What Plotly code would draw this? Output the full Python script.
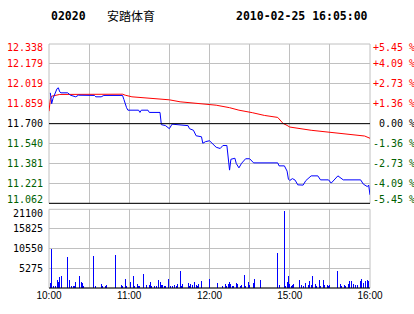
import plotly.graph_objects as go

# ---------------- data ----------------
code = "02020"
name = "安踏体育"
stamp = "2010-02-25 16:05:00"
prev_close = 11.700

price_times = ["10:01", "10:02", "10:03", "10:04", "10:06", "10:07", "10:08", "10:09", "10:14", "10:16",
               "10:19", "10:20", "10:22", "10:34", "10:35", "10:39", "10:41", "10:55", "10:56", "10:57",
               "10:58", "10:59", "11:07", "11:08", "11:09", "11:14", "11:15", "11:23", "11:24", "11:27",
               "11:30", "11:32", "11:43", "11:44", "11:45", "11:48", "11:50", "11:54", "11:55", "11:57",
               "12:00", "12:05", "12:08", "12:10", "12:13", "12:14", "12:15", "12:16", "12:18", "12:19",
               "12:20", "12:22", "12:24", "12:27", "12:30", "14:33", "14:51", "14:52", "14:56", "14:58",
               "14:59", "15:00", "15:02", "15:04", "15:06", "15:10", "15:12", "15:16", "15:21", "15:23",
               "15:29", "15:31", "15:36", "15:40", "15:53", "15:55", "15:58", "15:59", "16:00"]
price_values = [11.947, 11.860, 11.902, 11.928, 11.980, 11.987, 11.955, 11.947, 11.947, 11.928,
                11.915, 11.915, 11.928, 11.926, 11.915, 11.915, 11.926, 11.926, 11.894, 11.854,
                11.828, 11.808, 11.808, 11.790, 11.808, 11.808, 11.790, 11.790, 11.692, 11.685,
                11.660, 11.696, 11.690, 11.684, 11.660, 11.647, 11.603, 11.595, 11.543, 11.556,
                11.563, 11.511, 11.501, 11.525, 11.525, 11.429, 11.328, 11.415, 11.419, 11.423,
                11.381, 11.346, 11.383, 11.419, 11.419, 11.386, 11.386, 11.362, 11.362, 11.320,
                11.256, 11.245, 11.260, 11.248, 11.210, 11.208, 11.244, 11.282, 11.282, 11.250,
                11.250, 11.224, 11.282, 11.250, 11.250, 11.216, 11.196, 11.208, 11.130]

avg_times = ["10:00", "10:01", "10:02", "10:05", "10:08", "10:55", "10:57", "11:02", "11:10", "11:22",
             "11:30", "11:38", "11:47", "11:55", "12:01", "12:05", "12:15", "12:22", "14:32", "14:41",
             "14:51", "14:55", "14:58", "15:00", "15:16", "15:28", "15:43", "15:56", "16:00"]
avg_values = [11.800, 11.894, 11.920, 11.930, 11.934, 11.936, 11.928, 11.915, 11.907, 11.899,
              11.891, 11.875, 11.867, 11.860, 11.852, 11.848, 11.828, 11.808, 11.788, 11.766,
              11.750, 11.702, 11.686, 11.673, 11.647, 11.633, 11.615, 11.601, 11.583]

vol_times = ["10:01", "10:02", "10:03", "10:05", "10:06", "10:07", "10:08", "10:09", "10:14", "10:15",
             "10:17", "10:18", "10:19", "10:20", "10:23", "10:24", "10:25", "10:26", "10:33", "10:35",
             "10:39", "10:40", "10:42", "10:43", "10:50", "10:54", "10:55", "10:57", "10:58", "11:01",
             "11:03", "11:04", "11:06", "11:07", "11:08", "11:11", "11:13", "11:15", "11:16", "11:17",
             "11:19", "11:20", "11:22", "11:23", "11:24", "11:25", "11:26", "11:27", "11:29", "11:31",
             "11:32", "11:34", "11:35", "11:36", "11:38", "11:39", "11:40", "11:44", "11:45", "11:46",
             "11:47", "11:49", "11:50", "11:51", "11:52", "11:54", "12:00", "12:06", "12:10", "12:12",
             "12:13", "12:14", "12:15", "12:16", "12:17", "12:18", "12:20", "12:21", "12:23", "12:24",
             "12:26", "12:27", "12:29", "12:30", "14:33", "14:34", "14:38", "14:51", "14:52", "14:56",
             "14:57", "14:58", "14:59", "15:00", "15:01", "15:02", "15:03", "15:07", "15:09", "15:10",
             "15:12", "15:14", "15:15", "15:16", "15:17", "15:19", "15:20", "15:22", "15:23", "15:25",
             "15:26", "15:28", "15:29", "15:30", "15:36", "15:38", "15:39", "15:41", "15:42", "15:44",
             "15:45", "15:46", "15:48", "15:49", "15:51", "15:53", "15:54", "15:55", "15:57", "15:58",
             "15:59", "16:00"]
vol_values = [1250, 10400, 530, 530, 2140, 1500, 2850, 3200, 8280, 2140,
              530, 530, 530, 1500, 3200, 1500, 1250, 530, 8540, 530,
              1070, 530, 530, 800, 8800, 800, 530, 2400, 530, 1500,
              3200, 530, 1070, 530, 530, 3740, 800, 800, 1500, 530,
              530, 530, 2140, 1500, 800, 800, 530, 530, 2400, 530,
              530, 800, 530, 1070, 4540, 530, 1070, 1250, 530, 1070,
              800, 1500, 800, 530, 1070, 1870, 2400, 1340, 620, 1070,
              620, 1070, 1690, 1070, 620, 620, 1340, 1070, 620, 890,
              3560, 620, 1690, 890, 1340, 2400, 2230, 9520, 890, 20650,
              620, 1510, 3290, 1160, 620, 890, 1160, 2050, 890, 620,
              1340, 890, 1780, 890, 3110, 1160, 620, 2050, 620, 2050,
              890, 890, 620, 890, 4630, 1160, 620, 890, 620, 1160,
              1780, 1780, 1160, 890, 890, 1780, 2490, 1340, 1780, 2230,
              1780, 1160]

price_ticks = [11.062, 11.221, 11.381, 11.540, 11.700, 11.859, 12.019, 12.179, 12.338]
pct_tick_labels = ["-5.45 %", "-4.09 %", "-2.73 %", "-1.36 %", " 0.00 %", "+1.36 %", "+2.73 %", "+4.09 %", "+5.45 %"]
vol_ticks = [0, 5275, 10550, 15825, 21100]
time_tick_labels = ["10:00", "", "11:00", "", "12:00", "", "15:00", "", "16:00"]
time_tick_clock = ["10:00", "10:30", "11:00", "11:30", "12:00", "14:30", "15:00", "15:30", "16:00"]


# ---------------- helpers ----------------
def session_minute(s):
    h, m = map(int, s.split(":"))
    t = h * 60 + m
    if t <= 12 * 60 + 30:
        return t - 600
    return t - (14 * 60 + 30) + 150


RED = "#FF0000"
GREEN = "#006000"
BLUE = "#0000FF"
GRID = "#C0C0C0"


def col_for(v):
    if abs(v - prev_close) < 1e-9:
        return "#000000"
    return RED if v > prev_close else GREEN


px = [session_minute(t) for t in price_times]
ax = [session_minute(t) for t in avg_times]
vx = [session_minute(t) for t in vol_times]
tx = [session_minute(t) for t in time_tick_clock]

fig = go.Figure()
fig.add_trace(go.Scatter(x=ax, y=avg_values, mode="lines", line=dict(color=RED, width=1),
                         xaxis="x", yaxis="y", hoverinfo="skip", showlegend=False))
fig.add_trace(go.Scatter(x=px, y=price_values, mode="lines", line=dict(color=BLUE, width=1),
                         xaxis="x", yaxis="y", hoverinfo="skip", showlegend=False))
fig.add_trace(go.Bar(x=vx, y=vol_values, width=0.75, marker=dict(color=BLUE, line=dict(width=0)),
                     xaxis="x2", yaxis="y2", hoverinfo="skip", showlegend=False))

mono = dict(family="DejaVu Sans Mono", size=10, color="#000000")
y_price_dom = [0.347, 1.0]
y_vol_dom = [0.0, 0.3225]

fig.update_layout(
    width=414, height=314,
    margin=dict(l=49, r=44, t=44, b=26, autoexpand=False),
    paper_bgcolor="white", plot_bgcolor="white",
    bargap=0,
    xaxis=dict(domain=[0, 1], anchor="y", range=[0, 240], tickvals=tx, showticklabels=False,
               showgrid=True, gridcolor=GRID, gridwidth=1, zeroline=False, ticks="", automargin=False),
    xaxis2=dict(domain=[0, 1], anchor="y2", range=[0, 240], tickvals=tx, ticktext=time_tick_labels,
                showgrid=True, gridcolor=GRID, gridwidth=1, zeroline=False, ticks="", automargin=False,
                tickfont=dict(family="Liberation Sans", size=10, color="#000000")),
    yaxis=dict(domain=y_price_dom, anchor="x", range=[price_ticks[0], price_ticks[-1]],
               tickvals=price_ticks, showticklabels=False, showgrid=True, gridcolor=GRID,
               zeroline=False, ticks="", automargin=False),
    yaxis2=dict(domain=y_vol_dom, anchor="x2", range=[0, vol_ticks[-1]], tickvals=vol_ticks,
                showticklabels=False, showgrid=True, gridcolor=GRID, zeroline=False, ticks="",
                automargin=False),
)

shapes = []
for dom in (y_price_dom, y_vol_dom):
    shapes.append(dict(type="rect", xref="paper", yref="paper", x0=0, x1=1, y0=dom[0], y1=dom[1],
                       line=dict(color=GRID, width=1), fillcolor="rgba(0,0,0,0)", layer="below"))
shapes.append(dict(type="line", xref="paper", yref="y", x0=0, x1=1, y0=prev_close, y1=prev_close,
                   line=dict(color="#000000", width=1)))
shapes.append(dict(type="line", xref="paper", yref="paper", x0=0, x1=1, y0=y_price_dom[0], y1=y_price_dom[0],
                   line=dict(color="#000000", width=1)))
shapes.append(dict(type="line", xref="paper", yref="paper", x0=0, x1=1, y0=0, y1=0,
                   line=dict(color="#000000", width=1)))
fig.update_layout(shapes=shapes)

# y tick labels as annotations (extreme labels kept inside the panel)
n = len(price_ticks)
for i, v in enumerate(price_ticks):
    shift = 4 if i == 0 else (-3 if i == n - 1 else 0)
    c = col_for(v)
    fig.add_annotation(text="%.3f" % v, xref="paper", yref="y", x=0, y=v, xanchor="right", yanchor="middle",
                       xshift=-4, yshift=shift, showarrow=False, font=dict(mono, color=c))
    fig.add_annotation(text=pct_tick_labels[i], xref="paper", yref="y", x=1, y=v, xanchor="left",
                       yanchor="middle", xshift=1, yshift=shift, showarrow=False, font=dict(mono, color=c))
for i, v in enumerate(vol_ticks):
    if v == 0:
        continue
    shift = -4 if i == len(vol_ticks) - 1 else 0
    fig.add_annotation(text=str(v), xref="paper", yref="y2", x=0, y=v, xanchor="right", yanchor="middle",
                       xshift=-4, yshift=shift, showarrow=False, font=mono)

title_font = dict(family="DejaVu Sans Mono", size=11.5, color="#000000", weight="bold")
fig.add_annotation(text=code, xref="paper", yref="paper", x=0.0, y=1.115, xanchor="left", yanchor="middle",
                   showarrow=False, font=title_font)
fig.add_annotation(text=name, xref="paper", yref="paper", x=0.174, y=1.115, xanchor="left", yanchor="middle",
                   showarrow=False, font=dict(family="Noto Sans CJK SC", size=12, color="#000000"))
fig.add_annotation(text=stamp, xref="paper", yref="paper", x=1.0, y=1.115, xanchor="right", yanchor="middle",
                   showarrow=False, font=title_font)

fig.write_html("out.html", config={"displayModeBar": False, "staticPlot": True})
